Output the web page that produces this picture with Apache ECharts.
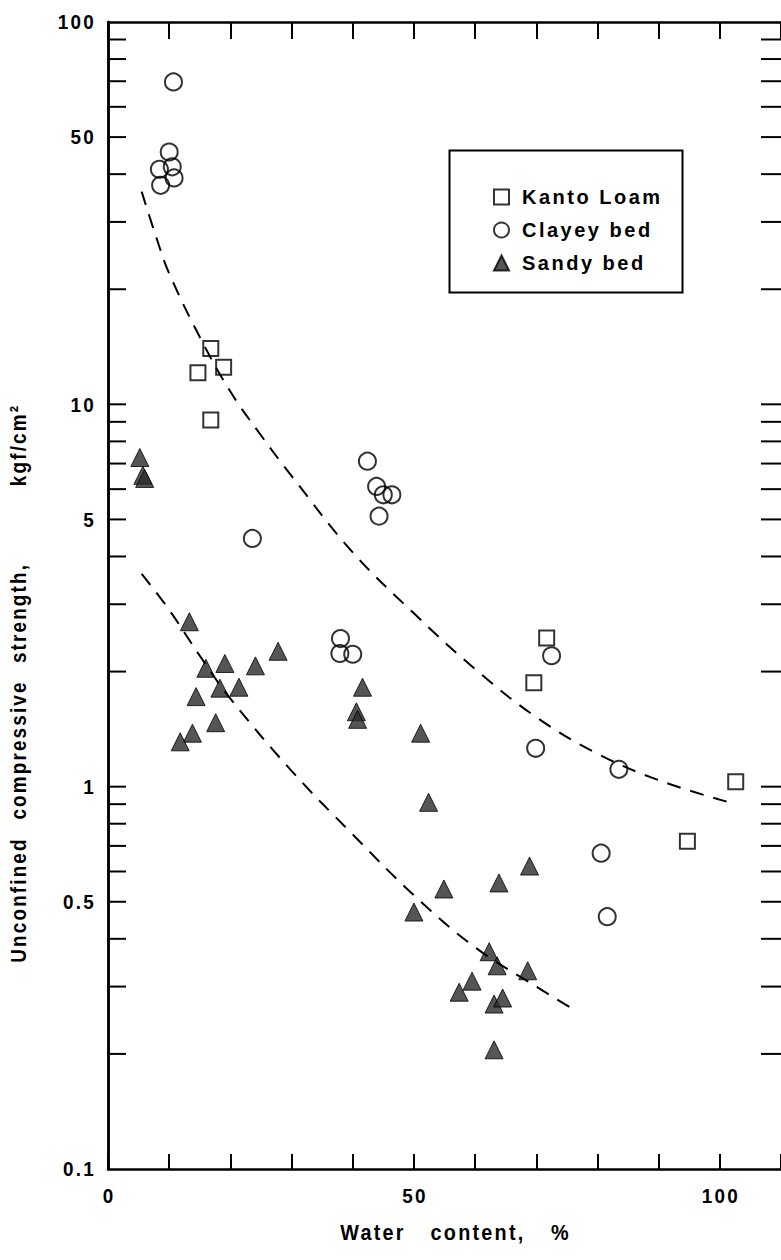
<!DOCTYPE html>
<html><head><meta charset="utf-8">
<script src="https://cdn.jsdelivr.net/npm/echarts@6/dist/echarts.min.js"></script>
<style>
html,body{margin:0;padding:0;background:#fff;}
#c{width:781px;height:1260px;}
#c svg text{letter-spacing:2.5px;}
</style></head><body><div id="c"></div>
<script>
// ---------- data ----------
const kantoX = [16.8, 14.7, 18.9, 16.8, 71.7, 69.6, 94.7, 102.6];
const kantoY = [14.0, 12.1, 12.5, 9.1, 2.45, 1.87, 0.72, 1.03];

const clayX = [10.7, 10.0, 8.4, 10.5, 10.8, 8.6, 23.6, 38.0, 37.9, 40.0, 42.4, 43.9, 45.0, 46.4, 44.3, 69.9, 72.5, 83.5, 80.6, 81.6];
const clayY = [69.7, 45.7, 41.2, 41.8, 39.1, 37.4, 4.46, 2.44, 2.23, 2.22, 7.1, 6.1, 5.8, 5.8, 5.1, 1.26, 2.2, 1.11, 0.67, 0.457];

const sandyX = [5.2, 5.7, 6.0, 13.3, 16.0, 19.1, 24.1, 27.8, 14.4, 18.3, 21.4, 17.6, 13.8, 11.8, 41.6, 40.6, 40.8, 51.1, 52.4, 54.9, 50.0, 63.9, 68.9, 62.3, 63.6, 68.6, 57.4, 59.5, 63.1, 64.5, 63.1];
const sandyY = [7.26, 6.52, 6.4, 2.70, 2.04, 2.10, 2.07, 2.26, 1.72, 1.81, 1.82, 1.47, 1.38, 1.31, 1.82, 1.57, 1.50, 1.38, 0.91, 0.54, 0.47, 0.56, 0.62, 0.37, 0.34, 0.33, 0.29, 0.31, 0.27, 0.28, 0.205];

const upperCurveX = [5.5, 8, 10, 15, 20, 25, 30, 40, 50, 60, 70, 80, 90, 101.5];
const upperCurveY = [36, 27, 22, 15, 10.8, 8.3, 6.5, 4.1, 2.84, 2.03, 1.52, 1.22, 1.04, 0.91];
const lowerCurveX = [5.5, 10, 15, 20, 30, 40, 50, 60, 70, 75.5];
const lowerCurveY = [3.6, 2.9, 2.2, 1.7, 1.1, 0.75, 0.52, 0.38, 0.30, 0.265];

const xLabelValues = [0, 50, 100];
const yTickValues = [0.2,0.3,0.4,0.5,0.6,0.7,0.8,0.9,1,2,3,4,5,6,7,8,9,10,20,30,40,50,60,70,80,90];
const yLabelValues = [0.1, 0.5, 1, 5, 10, 50, 100];

const seriesNames = ['Kanto Loam', 'Clayey bed', 'Sandy bed'];
const xTitleWords = ['Water', 'content,', '%'];
const yTitleWords = ['Unconfined', 'compressive', 'strength,', 'kgf/cm²'];

// ---------- chart ----------
const FONT = "'Liberation Sans',Arimo,Roboto,sans-serif";
const zip = (a, b) => a.map((v, i) => [v, b[i]]);
const chart = echarts.init(document.getElementById('c'), null, {renderer: 'svg', width: 781, height: 1260});

const axisLine = {show: true, lineStyle: {color: '#000', width: 2.5}};
const titleFont = 'bold 22px ' + FONT;
const tickFont = 'bold 21px ' + FONT;

// word layout positions for the axis titles (pixel layout only)
const xTitleCenters = [373, 478, 561];
const yTitleCenters = [900, 750, 613, 445];

const graphics = [
  {type: 'rect', left: 447, top: 148, shape: {width: 233, height: 142}, style: {fill: 'none', stroke: '#000', lineWidth: 2}, z: 10}
];
xTitleWords.forEach((w, i) => graphics.push({type: 'text', x: xTitleCenters[i], y: 1232, scaleX: 0.9,
  style: {text: w, font: titleFont, fill: '#000', align: 'center', verticalAlign: 'middle'}}));
yTitleWords.forEach((w, i) => graphics.push({type: 'text', x: 18, y: yTitleCenters[i], rotation: Math.PI / 2, scaleX: 0.86,
  style: {text: w, font: titleFont, fill: '#000', align: 'center', verticalAlign: 'middle'}}));

chart.setOption({
  animation: false,
  backgroundColor: '#fff',
  grid: {left: 108, top: 22, width: 680, height: 1147},
  legend: {
    data: seriesNames,
    orient: 'vertical',
    left: 488, top: 182,
    itemWidth: 15, itemHeight: 15, itemGap: 13,
    textStyle: {fontFamily: FONT, fontSize: 20, fontWeight: 'bold', color: '#000', lineHeight: 20, padding: [0, 0, 0, 8]}
  },
  xAxis: [{
    type: 'value', min: 0, max: 110, interval: 10,
    axisLine: axisLine,
    axisTick: {show: true, inside: true, length: 15, lineStyle: {color: '#000', width: 2}},
    axisLabel: {show: false},
    splitLine: {show: false}
  }, {
    type: 'value', min: 0, max: 110, interval: 10, position: 'top',
    axisLine: axisLine,
    axisTick: {show: true, inside: true, length: 17, lineStyle: {color: '#000', width: 2}},
    axisLabel: {show: false}, splitLine: {show: false}
  }],
  yAxis: [{
    type: 'log', logBase: 10, min: 0.1, max: 100,
    axisLine: axisLine, axisTick: {show: false}, axisLabel: {show: false}, splitLine: {show: false}
  }, {
    type: 'log', logBase: 10, min: 0.1, max: 100, position: 'right',
    axisLine: axisLine, axisTick: {show: false}, axisLabel: {show: false}, splitLine: {show: false}
  }],
  graphic: graphics,
  series: [
    {
      name: 'upper curve', type: 'line', data: zip(upperCurveX, upperCurveY), smooth: 0.4, symbol: 'none',
      lineStyle: {color: '#000', width: 2, type: [14, 10]}, silent: true
    },
    {
      name: 'lower curve', type: 'line', data: zip(lowerCurveX, lowerCurveY), smooth: 0.4, symbol: 'none',
      lineStyle: {color: '#000', width: 2, type: [14, 10]}, silent: true
    },
    {
      name: seriesNames[0], type: 'scatter', data: zip(kantoX, kantoY), symbol: 'rect', symbolSize: 15,
      itemStyle: {color: 'rgba(0,0,0,0)', borderColor: '#000', borderWidth: 2}
    },
    {
      name: seriesNames[1], type: 'scatter', data: zip(clayX, clayY), symbol: 'circle', symbolSize: 17,
      itemStyle: {color: 'rgba(0,0,0,0)', borderColor: '#000', borderWidth: 2}
    },
    {
      name: seriesNames[2], type: 'scatter', data: zip(sandyX, sandyY), symbol: 'triangle', symbolSize: 18,
      itemStyle: {color: '#2b2b2b', borderColor: '#000', borderWidth: 1}
    },
    {
      name: 'yTicks', type: 'custom', silent: true, data: yTickValues.map(v => [0, v]),
      encode: {x: 0, y: 1},
      renderItem: (params, api) => {
        const p = api.coord([0, api.value(1)]);
        const cs = params.coordSys;
        return {type: 'group', children: [
          {type: 'line', shape: {x1: cs.x, y1: p[1], x2: cs.x + 18, y2: p[1]}, style: {stroke: '#000', lineWidth: 2}},
          {type: 'line', shape: {x1: cs.x + cs.width - 20, y1: p[1], x2: cs.x + cs.width, y2: p[1]}, style: {stroke: '#000', lineWidth: 2}}
        ]};
      }
    },
    {
      name: 'yLabels', type: 'custom', silent: true, data: yLabelValues.map(v => [0, v]),
      encode: {x: 0, y: 1},
      renderItem: (params, api) => {
        const v = api.value(1);
        const p = api.coord([0, v]);
        return {type: 'text', x: params.coordSys.x - 12, y: p[1], scaleX: 0.9,
          style: {text: String(v), align: 'right', verticalAlign: 'middle', font: tickFont, fill: '#000'}};
      }
    },
    {
      name: 'xLabels', type: 'custom', silent: true, data: xLabelValues.map(v => [v, 0.1]),
      encode: {x: 0, y: 1},
      renderItem: (params, api) => {
        const v = api.value(0);
        const p = api.coord([v, 0.1]);
        return {type: 'text', x: p[0] + 1, y: p[1] + 27, scaleX: 0.9,
          style: {text: String(v), align: 'center', verticalAlign: 'middle', font: tickFont, fill: '#000'}};
      }
    }
  ]
});
</script></body></html>
